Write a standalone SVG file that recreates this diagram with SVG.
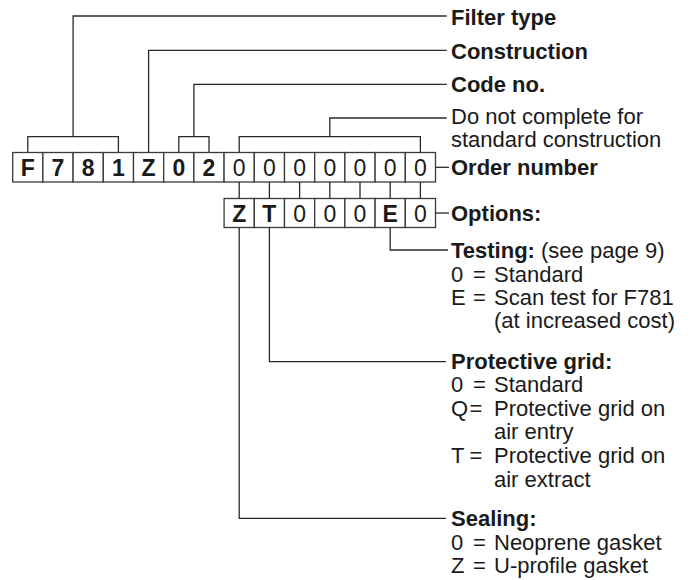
<svg xmlns="http://www.w3.org/2000/svg" width="694" height="580" viewBox="0 0 694 580">
<style>
text{font-family:"Liberation Sans",Arial,Helvetica,sans-serif;font-size:22px;fill:#1a1a1a}
.b{font-weight:bold}
.d{text-anchor:middle;font-size:23px}
.box{fill:#fff;stroke:#3a3a3a;stroke-width:1.3}
.ln{fill:none;stroke:#2a2a2a;stroke-width:1.3}
</style>
<rect width="694" height="580" fill="#fff"/>
<g id="connectors">
<path class="ln" d="M27.8,152.5V136.7H118.4V152.5M73.1,136.7V16H446.7"/>
<path class="ln" d="M148.6,152.5V50.3H446.7"/>
<path class="ln" d="M178.8,152.5V136.7H209V152.5M193.9,136.7V84.3H446.7"/>
<path class="ln" d="M239.2,152.5V136.7H420.4V152.5M329.8,136.7V118H446.7"/>
<path class="ln" d="M435.5,167.3H449"/>
<path class="ln" d="M239.2,182V198.5M269.4,182V198.5M299.6,182V198.5M329.8,182V198.5M360,182V198.5M390.2,182V198.5M420.4,182V198.5"/>
<path class="ln" d="M435.5,213H449"/>
<path class="ln" d="M390.2,227.5V250H448"/>
<path class="ln" d="M269.4,227.5V361.7H446"/>
<path class="ln" d="M239.2,227.5V518.3H446"/>
</g>
<g id="order-row">
<rect class="box" x="12.7" y="152.5" width="30.2" height="29.5"/>
<rect class="box" x="42.9" y="152.5" width="30.2" height="29.5"/>
<rect class="box" x="73.1" y="152.5" width="30.2" height="29.5"/>
<rect class="box" x="103.3" y="152.5" width="30.2" height="29.5"/>
<rect class="box" x="133.5" y="152.5" width="30.2" height="29.5"/>
<rect class="box" x="163.7" y="152.5" width="30.2" height="29.5"/>
<rect class="box" x="193.9" y="152.5" width="30.2" height="29.5"/>
<rect class="box" x="224.1" y="152.5" width="30.2" height="29.5"/>
<rect class="box" x="254.3" y="152.5" width="30.2" height="29.5"/>
<rect class="box" x="284.5" y="152.5" width="30.2" height="29.5"/>
<rect class="box" x="314.7" y="152.5" width="30.2" height="29.5"/>
<rect class="box" x="344.9" y="152.5" width="30.2" height="29.5"/>
<rect class="box" x="375.1" y="152.5" width="30.2" height="29.5"/>
<rect class="box" x="405.3" y="152.5" width="30.2" height="29.5"/>
<text class="b d" x="27.8" y="176">F</text>
<text class="b d" x="58" y="176">7</text>
<text class="b d" x="88.2" y="176">8</text>
<text class="b d" x="118.4" y="176">1</text>
<text class="b d" x="148.6" y="176">Z</text>
<text class="b d" x="178.8" y="176">0</text>
<text class="b d" x="209" y="176">2</text>
<text class="d" x="239.2" y="176">0</text>
<text class="d" x="269.4" y="176">0</text>
<text class="d" x="299.6" y="176">0</text>
<text class="d" x="329.8" y="176">0</text>
<text class="d" x="360" y="176">0</text>
<text class="d" x="390.2" y="176">0</text>
<text class="d" x="420.4" y="176">0</text>
</g>
<g id="options-row">
<rect class="box" x="224.1" y="198.5" width="30.2" height="29"/>
<rect class="box" x="254.3" y="198.5" width="30.2" height="29"/>
<rect class="box" x="284.5" y="198.5" width="30.2" height="29"/>
<rect class="box" x="314.7" y="198.5" width="30.2" height="29"/>
<rect class="box" x="344.9" y="198.5" width="30.2" height="29"/>
<rect class="box" x="375.1" y="198.5" width="30.2" height="29"/>
<rect class="box" x="405.3" y="198.5" width="30.2" height="29"/>
<text class="b d" x="239.2" y="221.5">Z</text>
<text class="b d" x="269.4" y="221.5">T</text>
<text class="d" x="299.6" y="221.5">0</text>
<text class="d" x="329.8" y="221.5">0</text>
<text class="d" x="360" y="221.5">0</text>
<text class="b d" x="390.2" y="221.5">E</text>
<text class="d" x="420.4" y="221.5">0</text>
</g>
<g id="label-filter-type"><text class="b" x="451" y="24.5">Filter type</text></g>
<g id="label-construction"><text class="b" x="451" y="58.5">Construction</text></g>
<g id="label-code-no"><text class="b" x="451" y="92">Code no.</text></g>
<g id="label-do-not-complete">
<text x="451" y="124">Do not complete for</text>
<text x="451" y="147">standard construction</text>
</g>
<g id="label-order-number"><text class="b" x="451" y="175">Order number</text></g>
<g id="label-options"><text class="b" x="451" y="220.5">Options:</text></g>
<g id="label-testing">
<text x="451" y="257.5"><tspan class="b">Testing:</tspan> (see page 9)</text>
<text x="451" y="282">0<tspan x="473">=</tspan><tspan x="494">Standard</tspan></text>
<text x="451" y="305">E<tspan x="473">=</tspan><tspan x="494">Scan test for F781</tspan></text>
<text x="494" y="328">(at increased cost)</text>
</g>
<g id="label-protective-grid">
<text class="b" x="451" y="369">Protective grid:</text>
<text x="451" y="392">0<tspan x="473">=</tspan><tspan x="494">Standard</tspan></text>
<text x="451" y="416">Q<tspan x="469.5">=</tspan><tspan x="494">Protective grid on</tspan></text>
<text x="494" y="439">air entry</text>
<text x="451" y="463">T<tspan x="469.5">=</tspan><tspan x="494">Protective grid on</tspan></text>
<text x="494" y="486.5">air extract</text>
</g>
<g id="label-sealing">
<text class="b" x="451" y="526">Sealing:</text>
<text x="451" y="549.5">0<tspan x="473">=</tspan><tspan x="494">Neoprene gasket</tspan></text>
<text x="451" y="573">Z<tspan x="473">=</tspan><tspan x="494">U-profile gasket</tspan></text>
</g>
</svg>
